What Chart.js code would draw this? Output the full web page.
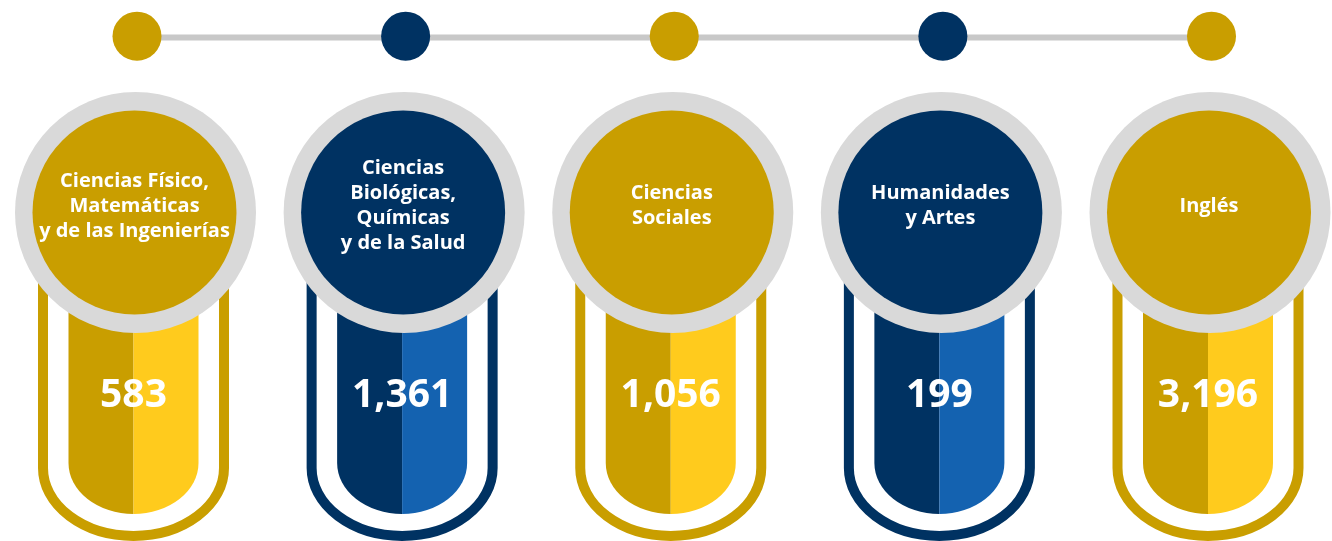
<!DOCTYPE html>
<html lang="es">
<head>
<meta charset="utf-8">
<title>Áreas del conocimiento</title>
<script src="https://cdn.jsdelivr.net/npm/chart.js@4.4.1/dist/chart.umd.min.js"></script>
<style>
    html, body { margin: 0; padding: 0; background: #ffffff; }
    .chart-wrap { width: 1332px; height: 541px; position: relative; }
</style>
</head>
<body>
<div class="chart-wrap">
    <canvas id="areasChart"></canvas>
</div>
<script>
// Data
const areaLabels = [
    ['Ciencias Físico,', 'Matemáticas', 'y de las Ingenierías'],
    ['Ciencias', 'Biológicas,', 'Químicas', 'y de la Salud'],
    ['Ciencias', 'Sociales'],
    ['Humanidades', 'y Artes'],
    ['Inglés']
];
const areaTotals = [583, 1361, 1056, 199, 3196];

// Palette (gold / navy alternating)
const gold = { main: '#C99E00', light: '#FFCB1D' };
const navy = { main: '#003262', light: '#1462B0' };
const palette = [gold, navy, gold, navy, gold];

const infographicPlugin = {
    id: 'infographic',
    afterDatasetsDraw(chart) {
        const ctx = chart.ctx;
        const xScale = chart.scales.x;
        const n = areaTotals.length;
        const centers = [];
        for (let i = 0; i < n; i++) {
            centers.push(xScale.getPixelForValue(i));
        }

        ctx.save();

        // Columns
        centers.forEach((x, i) => {
            const c = palette[i];
            const cx = x - 2;

            // Outer capsule outline
            ctx.beginPath();
            ctx.moveTo(cx - 90.5, 250);
            ctx.lineTo(cx - 90.5, 468);
            ctx.ellipse(cx, 468, 90.5, 68, 0, Math.PI, 0, true);
            ctx.lineTo(cx + 90.5, 250);
            ctx.lineWidth = 10;
            ctx.strokeStyle = c.main;
            ctx.stroke();

            // Inner bar - left half
            ctx.beginPath();
            ctx.moveTo(cx - 65, 250);
            ctx.lineTo(cx - 65, 463);
            ctx.ellipse(cx, 463, 65, 51, 0, Math.PI, Math.PI / 2, true);
            ctx.lineTo(cx, 250);
            ctx.closePath();
            ctx.fillStyle = c.main;
            ctx.fill();

            // Inner bar - right half
            ctx.beginPath();
            ctx.moveTo(cx, 250);
            ctx.lineTo(cx, 514);
            ctx.ellipse(cx, 463, 65, 51, 0, Math.PI / 2, 0, true);
            ctx.lineTo(cx + 65, 250);
            ctx.closePath();
            ctx.fillStyle = c.light;
            ctx.fill();

            // Gray ring + colored disc
            ctx.beginPath();
            ctx.arc(x, 212.5, 120.5, 0, Math.PI * 2);
            ctx.fillStyle = '#D9D9D9';
            ctx.fill();
            ctx.beginPath();
            ctx.arc(x - 1, 212.5, 102, 0, Math.PI * 2);
            ctx.fillStyle = c.main;
            ctx.fill();

            // Area label
            const lines = areaLabels[i];
            const lh = 25;
            ctx.fillStyle = '#ffffff';
            ctx.textAlign = 'center';
            ctx.textBaseline = 'middle';
            ctx.font = 'bold 20px "Open Sans", sans-serif';
            const top = 206 - (lines.length - 1) * lh / 2;
            lines.forEach((line, j) => {
                ctx.fillText(line, x - 1, top + j * lh);
            });

            // Total
            ctx.font = 'bold 39px "Open Sans", sans-serif';
            ctx.fillText(areaTotals[i].toLocaleString('en-US'), cx, 396);
        });

        // Connector line and dots
        ctx.beginPath();
        ctx.moveTo(centers[0], 37.5);
        ctx.lineTo(centers[n - 1], 37.5);
        ctx.lineWidth = 6;
        ctx.strokeStyle = '#C8C8C8';
        ctx.stroke();

        centers.forEach((x, i) => {
            ctx.beginPath();
            ctx.arc(x + 1.5, 36.2, 24.5, 0, Math.PI * 2);
            ctx.fillStyle = palette[i].main;
            ctx.fill();
        });

        ctx.restore();
    }
};

document.addEventListener('DOMContentLoaded', function() {
    const ctx = document.getElementById('areasChart').getContext('2d');
    new Chart(ctx, {
        type: 'bar',
        data: {
            labels: areaLabels.map(l => l.join(' ')),
            datasets: [{
                label: 'Total',
                data: areaTotals,
                backgroundColor: 'rgba(0,0,0,0)',
                borderWidth: 0
            }]
        },
        options: {
            responsive: true,
            maintainAspectRatio: false,
            animation: false,
            layout: {
                padding: { left: 135.5, right: 122, top: 0, bottom: 0 }
            },
            scales: {
                x: { display: false, offset: false },
                y: { display: false, beginAtZero: true }
            },
            plugins: {
                legend: { display: false },
                tooltip: { enabled: false }
            }
        },
        plugins: [infographicPlugin]
    });
});
</script>
</body>
</html>
